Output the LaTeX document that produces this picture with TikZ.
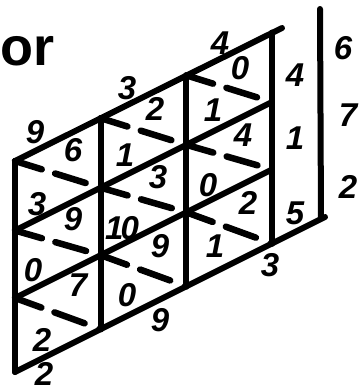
\documentclass[tikz,border=0pt]{standalone}
\usepackage{fontspec}
\newfontfamily\headfont{Liberation Sans}
\usetikzlibrary{calc}

\begin{document}
\begin{tikzpicture}[
  x=1pt, y=-1pt,
  grid/.style={line width=6pt, line cap=round},
  diag/.style={line width=6.5pt, line cap=round, dash pattern=on 28pt off 14pt on 32pt off 16pt},
  digit/.style={font=\headfont\fontsize{33}{33}\selectfont\bfseries\itshape, inner sep=0pt}
]
\useasboundingbox (0,0) rectangle (360,392);

\node[font=\headfont\bfseries\fontsize{54}{54}\selectfont, anchor=base west, inner sep=0pt] (head) at (0,65) {or};

% lattice corners
\foreach \i in {0,...,3}
  \foreach \j/\dy in {0/0, 1/69.5, 2/137, 3/211}
    \coordinate (p\i\j) at ({15+85.67*\i}, {161+\dy-42.83*\i});
\coordinate (topend) at (282,28);
\coordinate (botend) at (325,217);
\coordinate (rtop) at (320,9);
\coordinate (rbot) at (321,218);

% frame and rows
\draw[grid] (p00) -- (topend);
\draw[grid] (p01) -- (p31);
\draw[grid] (p02) -- (p32);
\draw[grid] (p03) -- (botend);
\foreach \i in {0,...,3}
  \draw[grid] (p\i0) -- (p\i3);
\draw[grid] (rtop) -- (rbot);

% diagonals
\foreach \i in {0,1,2}
  \foreach \j in {0,1,2} {
    \pgfmathtruncatemacro\ii{\i+1}
    \pgfmathtruncatemacro\jj{\j+1}
    \draw[diag] (p\i\j) -- (p\ii\jj);
  }

% digits round the lattice
\node[digit] (top1) at (35,132) {9};
\node[digit] (top2) at (127,88) {3};
\node[digit] (top3) at (220,43) {4};
\node[digit] (rgt1) at (343,48) {6};
\node[digit] (rgt2) at (348,115) {7};
\node[digit] (rgt3) at (348,187) {2};
\node[digit] (col1) at (295,75) {4};
\node[digit] (col2) at (295,138) {1};
\node[digit] (col3) at (295,213) {5};
\node[digit] (bot1) at (44,374) {2};
\node[digit] (bot2) at (160,320) {9};
\node[digit] (bot3) at (270,265) {3};

% digits in the cells
\node[digit] (c11a) at (73,150) {6};
\node[digit] (c11b) at (37,204) {3};
\node[digit] (c12a) at (155,109) {2};
\node[digit] (c12b) at (125,155) {1};
\node[digit] (c13a) at (240,68) {0};
\node[digit] (c13b) at (213,110) {1};
\node[digit] (c21a) at (73,219) {9};
\node[digit] (c21b) at (33,270) {0};
\node[digit] (c22a) at (158,177) {3};
\node[digit] (c22b) at (122,228) {1\kern-3pt0};
\node[digit] (c23a) at (243,135) {4};
\node[digit] (c23b) at (208,185) {0};
\node[digit] (c31a) at (78,285) {7};
\node[digit] (c31b) at (42,340) {2};
\node[digit] (c32a) at (160,246) {9};
\node[digit] (c32b) at (127,295) {0};
\node[digit] (c33a) at (248,203) {2};
\node[digit] (c33b) at (215,246) {1};
\end{tikzpicture}
\end{document}
